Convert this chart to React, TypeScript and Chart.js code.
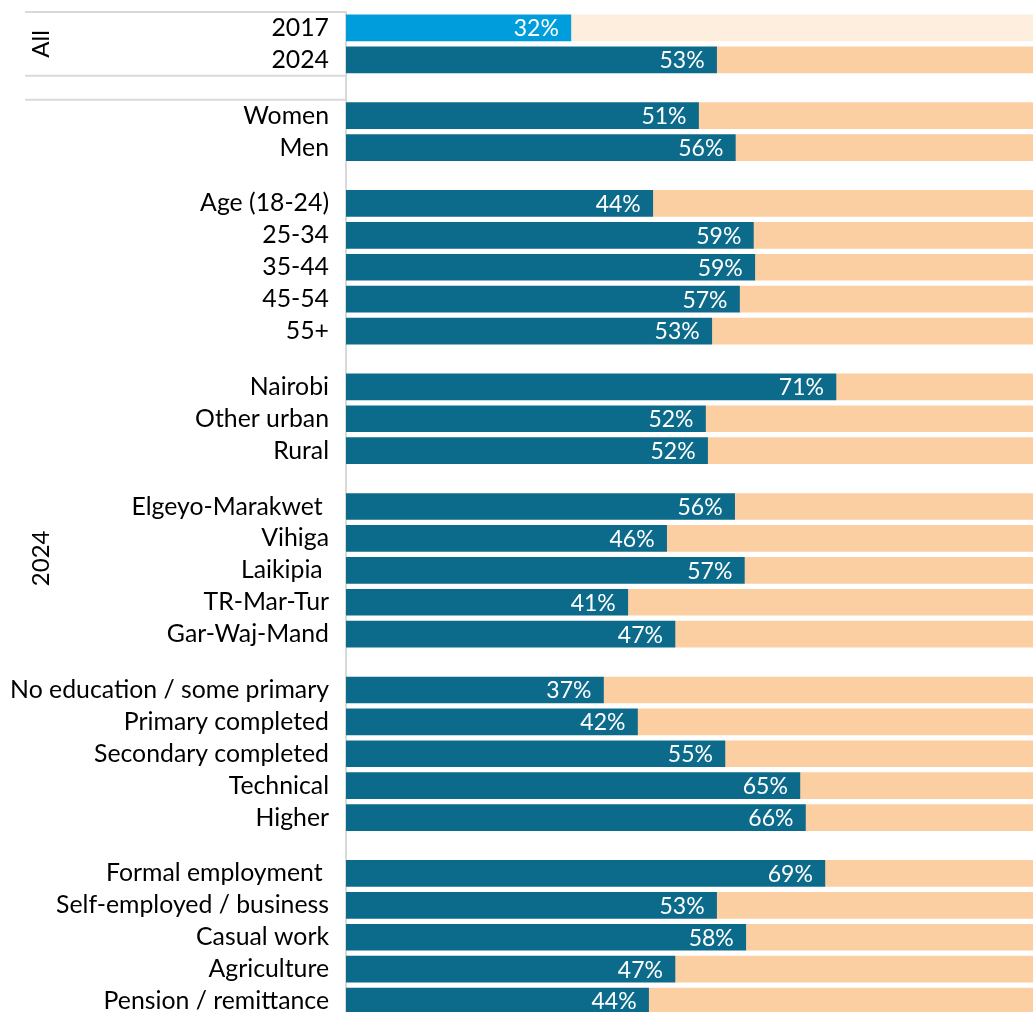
import React, { useEffect, useRef } from 'react';
import { Chart, registerables } from 'chart.js';

Chart.register(...registerables);

// ---- Data ----
const allLabels = ['2017', '2024'];
const allValues = [32.4, 53.4];
const genderLabels = ['Women', 'Men'];
const genderValues = [50.8, 56.1];
const ageLabels = ['Age (18-24)', '25-34', '35-44', '45-54', '55+'];
const ageValues = [44.2, 58.7, 58.9, 56.7, 52.7];
const locationLabels = ['Nairobi', 'Other urban', 'Rural'];
const locationValues = [70.6, 51.8, 52.1];
const countyLabels = ['Elgeyo-Marakwet ', 'Vihiga', 'Laikipia ', 'TR-Mar-Tur', 'Gar-Waj-Mand'];
const countyValues = [56.0, 46.2, 57.4, 40.6, 47.4];
const educationLabels = ['No education / some primary', 'Primary completed', 'Secondary completed', 'Technical', 'Higher'];
const educationValues = [37.1, 42.0, 54.6, 65.4, 66.2];
const employmentLabels = ['Formal employment ', 'Self-employed / business', 'Casual work', 'Agriculture', 'Pension / remittance'];
const employmentValues = [69.0, 53.4, 57.6, 47.4, 43.6];
const outerGroupLabels = ['All', '2024'];

// ---- Layout helpers (derived from the group structure) ----
const groupLabelLists = [allLabels, genderLabels, ageLabels, locationLabels, countyLabels, educationLabels, employmentLabels];
const groupValueLists = [allValues, genderValues, ageValues, locationValues, countyValues, educationValues, employmentValues];
const GROUP_GAP = 0.75; // extra empty space between groups, in rows

const rowLabels: string[] = [];
const rowValues: number[] = [];
const rowPos: number[] = [];
const rowIsOld: boolean[] = [];
const groupStart: number[] = [];
const groupEnd: number[] = [];
{
  let p = 0;
  groupLabelLists.forEach((labels, g) => {
    if (g > 0) p += GROUP_GAP;
    groupStart.push(p);
    labels.forEach((lab, i) => {
      rowLabels.push(lab);
      rowValues.push(groupValueLists[g][i]);
      rowPos.push(p);
      rowIsOld.push(g === 0 && i === 0);
      p += 1;
    });
    groupEnd.push(p - 1);
  });
}

const TEAL = '#0C6A8B';
const LIGHT_BLUE = '#009DDC';
const PEACH = '#FBCFA1';
const LIGHT_PEACH = '#FDEEDE';
const GRID = '#D9D9D9';
const FONT = 'Lato';

const valueLabelPlugin = {
  id: 'valueLabels',
  afterDatasetsDraw(chart: any) {
    const meta = chart.getDatasetMeta(0);
    const ctx = chart.ctx;
    ctx.save();
    ctx.font = `23px ${FONT}`;
    ctx.fillStyle = '#FFFFFF';
    ctx.textAlign = 'right';
    ctx.textBaseline = 'middle';
    meta.data.forEach((bar: any, i: number) => {
      ctx.fillText(`${Math.round(rowValues[i])}%`, bar.x - 12, bar.y + 1);
    });
    ctx.restore();
  },
};

const groupPlugin = {
  id: 'groupAxis',
  afterDraw(chart: any) {
    const ctx = chart.ctx;
    const ys = chart.scales.y;
    const right = chart.chartArea.left;
    const left = 25;
    const allTop = ys.getPixelForValue(groupStart[0] - 0.5);
    const allBottom = ys.getPixelForValue(groupEnd[0] + 0.5);
    const restTop = ys.getPixelForValue(groupStart[1] - 0.5);
    const restBottom = ys.getPixelForValue(groupEnd[groupEnd.length - 1] + 0.5);
    ctx.save();
    ctx.strokeStyle = GRID;
    ctx.lineWidth = 2;
    [allTop, allBottom, restTop].forEach((y: number) => {
      ctx.beginPath();
      ctx.moveTo(left, y);
      ctx.lineTo(right, y);
      ctx.stroke();
    });
    ctx.fillStyle = '#000000';
    ctx.font = `24px ${FONT}`;
    ctx.textAlign = 'center';
    ctx.textBaseline = 'middle';
    const drawRot = (text: string, cy: number) => {
      ctx.save();
      ctx.translate(41, cy);
      ctx.rotate(-Math.PI / 2);
      ctx.fillText(text, 0, 0);
      ctx.restore();
    };
    drawRot(outerGroupLabels[0], (allTop + allBottom) / 2);
    drawRot(outerGroupLabels[1], (restTop + restBottom) / 2);
    ctx.restore();
  },
};

export default function App() {
  const ref = useRef<HTMLCanvasElement | null>(null);
  useEffect(() => {
    if (!ref.current) return;
    const chart = new Chart(ref.current, {
      type: 'bar',
      data: {
        datasets: [
          {
            data: rowValues.map((v, i) => ({ x: v, y: rowPos[i] })) as any,
            backgroundColor: rowIsOld.map((o) => (o ? LIGHT_BLUE : TEAL)),
            barThickness: 26,
            borderWidth: 0,
          },
          {
            data: rowValues.map((v, i) => ({ x: 100 - v, y: rowPos[i] })) as any,
            backgroundColor: rowIsOld.map((o) => (o ? LIGHT_PEACH : PEACH)),
            barThickness: 26,
            borderWidth: 0,
          },
        ],
      },
      options: {
        indexAxis: 'y',
        animation: false,
        responsive: false,
        maintainAspectRatio: false,
        layout: { padding: { top: 12, bottom: 0, left: 0, right: 0 } },
        plugins: { legend: { display: false }, tooltip: { enabled: false } },
        scales: {
          x: { type: 'linear', min: 0, max: 100, display: false, stacked: true },
          y: {
            type: 'linear',
            reverse: true,
            stacked: true,
            offset: false,
            min: groupStart[0] - 0.5,
            max: groupEnd[groupEnd.length - 1] + 0.5,
            afterBuildTicks: (scale: any) => {
              scale.ticks = rowPos.map((v) => ({ value: v }));
            },
            afterFit: (scale: any) => {
              scale.width = 346;
              scale.paddingTop = 0;
              scale.paddingBottom = 0;
            },
            grid: { display: false, drawTicks: false },
            border: { display: true, color: GRID, width: 2 },
            ticks: {
              autoSkip: false,
              padding: 17,
              color: '#000000',
              font: { family: FONT, size: 24.8 },
              callback: (_v: any, i: number) => rowLabels[i],
            },
          },
        },
      },
      plugins: [valueLabelPlugin, groupPlugin],
    });
    return () => chart.destroy();
  }, []);
  return (
    <div style={{ position: 'fixed', left: 0, top: 0, width: 1040, height: 1017, overflow: 'hidden', background: '#fff' }}>
      <canvas ref={ref} width={1040} height={1017} style={{ display: 'block' }} />
    </div>
  );
}
